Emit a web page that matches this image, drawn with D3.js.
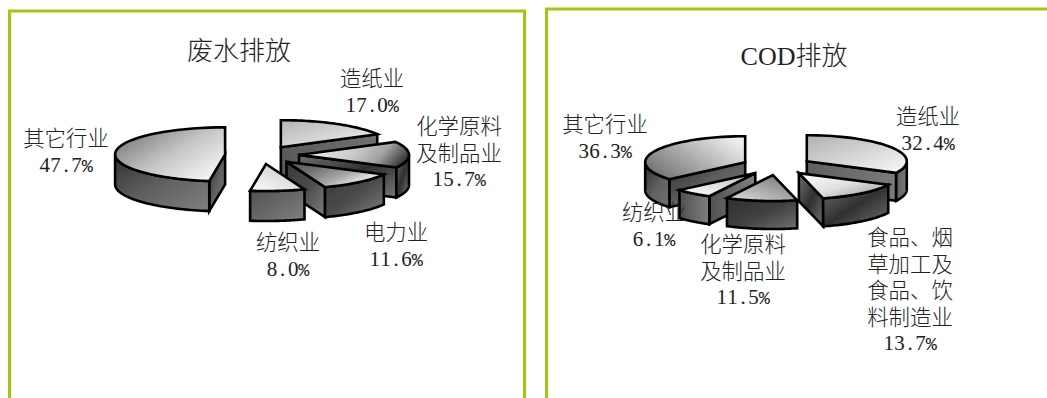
<!DOCTYPE html>
<html><head><meta charset="utf-8">
<script src="https://cdn.jsdelivr.net/npm/d3@7/dist/d3.min.js"></script>
<style>
html,body{margin:0;background:#fff;overflow:hidden}
svg{display:block}
text{fill:#222;text-anchor:middle}
.cjk{font-family:"Noto Sans CJK SC",sans-serif;font-size:21.4px;font-weight:300}
.num{font-family:"Liberation Serif",serif;font-size:21px}
.num tspan{font-family:"Liberation Mono",monospace;font-size:18.5px}
.title{font-family:"Liberation Serif","Noto Sans CJK SC",serif;font-size:26px;font-weight:300}
</style></head><body>
<svg id="c" width="1047" height="398"></svg>
<script>
// Wastewater shares by industry
const waterNames = [["造纸业"],["化学原料","及制品业"],["电力业"],["纺织业"],["其它行业"]];
const waterShares = [17.0,15.7,11.6,8.0,47.7];
// COD shares by industry
const codNames = [["造纸业"],["食品、烟","草加工及","食品、饮","料制造业"],["化学原料","及制品业"],["纺织业"],["其它行业"]];
const codShares = [32.4,13.7,11.5,6.1,36.3];

// Top-face and wall shading, slice by slice: [x1,y1,x2,y2, colours...]
const waterTop  = [[0,0,1,1,"#b4b4b4","#f4f4f4"],[0,.4,1,.6,"#f6f6f6","#e0e0e0","#c8c8c8","#a0a0a0","#303030"],[0,0,1,.6,"#505050","#707070","#a8a8a8","#ffffff"],[1,0,0,1,"#c0c0c0","#ffffff"],[0,.1,1,.9,"#707070","#c4c4c4","#fcfcfc"]];
const waterWall = [[0,0,1,0,"#5a5a5a","#707070"],[0,0,1,1,"#707070","#303030","#777777"],[0,0,1,1,"#3a3a3a","#4a4a4a","#808080"],[0,0,1,1,"#505050","#808080"],[0,0,1,1,"#303030","#606060","#808080"]];
const codTop    = [[0,0,1,1,"#b0b0b0","#fafafa"],[0,0,1,1,"#ffffff","#e0e0e0","#909090"],[1,0,0,1,"#707070","#e0e0e0"],[0,1,1,0,"#ffffff","#c0c0c0"],[0,.8,1,.2,"#707070","#b0b0b0","#f0f0f0"]];
const codWall   = [[0,0,1,0,"#606060","#7a7a7a"],[0,0,1,1,"#707070","#303030","#707070"],[0,0,1,1,"#303030","#404040","#707070"],[0,0,1,0,"#505050","#808080"],[0,0,1,1,"#2c2c2c","#606060","#707070"]];

const svg = d3.select("#c");
const defs = svg.append("defs");
let gid = 0;
function shade(spec){
  const id = "g"+(gid++);
  const [x1,y1,x2,y2,...cols] = spec;
  const g = defs.append("linearGradient").attr("id",id).attr("x1",x1).attr("y1",y1).attr("x2",x2).attr("y2",y2);
  cols.forEach((c,i)=>g.append("stop").attr("offset",i/(cols.length-1)).attr("stop-color",c));
  return `url(#${id})`;
}

// Panel frames
const green = "#9ccb08";
const frame = d3.line();
svg.append("path").attr("d",frame([[9.5,398],[9.5,11],[524.5,11],[524.5,398]])).attr("fill","none").attr("stroke",green).attr("stroke-width",3);
svg.append("path").attr("d",frame([[546.5,398],[546.5,9],[1047,9]])).attr("fill","none").attr("stroke",green).attr("stroke-width",3);

// One exploded pseudo-3D pie. Slices run clockwise from twelve o'clock.
function pie3d(cfg){
  const arcs = d3.pie().sort(null).value(d=>d)(cfg.values);
  const pieces = arcs.map((a,i)=>{
    const mid=(a.startAngle+a.endAngle)/2;
    return {a,i,cx:cfg.cx+cfg.explode*Math.sin(mid),cy:cfg.cy-cfg.explode*Math.cos(mid)*cfg.ry/cfg.rx};
  });
  const g = svg.append("g");
  const line = d3.line();
  cfg.order.forEach(i=>{
    const p = pieces[i], a0=p.a.startAngle, a1=p.a.endAngle;
    const at=(t,dz=0)=>[p.cx+cfg.rx*Math.sin(t),p.cy-cfg.ry*Math.cos(t)+dz];
    const apex=[p.cx,p.cy];
    const sweep=(s,e)=>d3.range(0,41).map(k=>s+(e-s)*k/40);
    const wallFill=shade(cfg.wall[i]);
    const style=(sel,fill)=>sel.attr("fill",fill).attr("stroke","#000").attr("stroke-width",2.6).attr("stroke-linejoin","miter");
    // radial walls that face the viewer
    const radial=(t)=>style(g.append("path"),wallFill).attr("d",line([apex,at(t),at(t,cfg.depth),[apex[0],apex[1]+cfg.depth]])+"Z");
    if(Math.sin(a1)>1e-6) radial(a1);
    if(Math.sin(a0)<-1e-6) radial(a0);
    // curved outer wall on the near half of the rim
    const s=Math.max(a0,Math.PI/2), e=Math.min(a1,Math.PI*1.5);
    if(e>s){
      const top=sweep(s,e).map(t=>at(t));
      const bot=sweep(e,s).map(t=>at(t,cfg.depth));
      style(g.append("path"),wallFill).attr("d",line(top.concat(bot))+"Z");
    }
    // top face
    const rim=sweep(a0,a1).map(t=>at(t));
    style(g.append("path"),shade(cfg.top[i])).attr("d",line([apex].concat(rim))+"Z");
  });
}

pie3d({values:waterShares,cx:262,cy:155,rx:110,ry:27,depth:30,explode:37,order:[4,0,1,2,3],top:waterTop,wall:waterWall});
pie3d({values:codShares,cx:777,cy:166,rx:100,ry:26,depth:28,explode:35,order:[4,0,1,3,2],top:codTop,wall:codWall});

// Titles and slice labels; figures sit in fixed half-em cells
function label(names,share,x,y,step=26.6){
  names.forEach((n,k)=>svg.append("text").attr("class","cjk").attr("x",x).attr("y",y+k*step).text(n));
  const s=share.toFixed(1), cell=10.6, n=s.length+1;
  const xs=d3.range(n).map(k=>x+(k-(n-1)/2)*cell).join(" ");
  const t=svg.append("text").attr("class","num").attr("x",xs).attr("y",y+names.length*step-1).text(s);
  t.append("tspan").text("%");
}
svg.append("text").attr("class","title").attr("x",239).attr("y",60).text("废水排放");
svg.append("text").attr("class","title").attr("x",794).attr("y",65).text("COD排放");

const waterSpots=[[372,86],[459,134],[396,240],[288,250],[66,146]];
waterNames.forEach((n,i)=>label(n,waterShares[i],waterSpots[i][0],waterSpots[i][1]));
const codSpots=[[928,124],[910,245],[743,252],[654,220],[605,132]];
codNames.forEach((n,i)=>label(n,codShares[i],codSpots[i][0],codSpots[i][1]));
</script>
</body></html>
